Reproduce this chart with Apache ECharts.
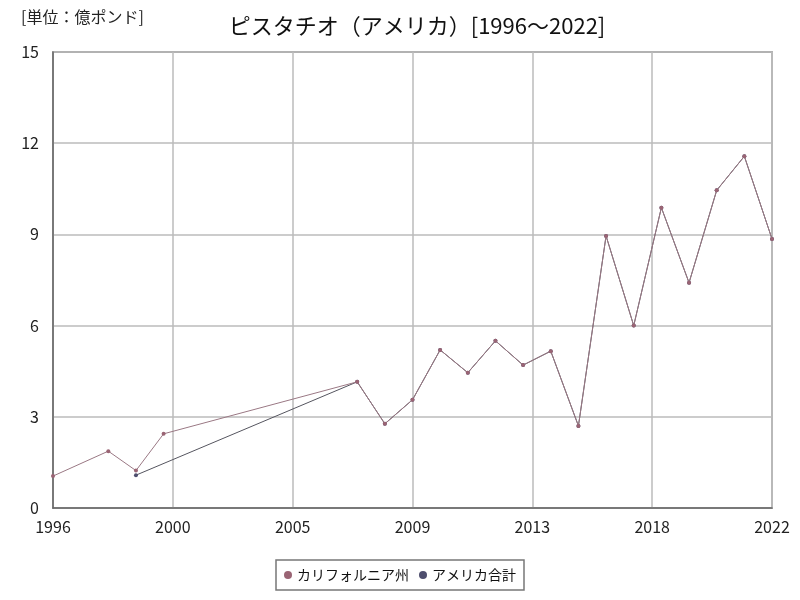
<!DOCTYPE html>
<html><head><meta charset="utf-8">
<script src="https://cdn.jsdelivr.net/npm/echarts@6/dist/echarts.min.js"></script>
<style>html,body{margin:0;padding:0;background:#fff}#c{width:800px;height:600px}</style>
</head><body><div id="c"></div>
<script>
const calYears = [1996,1998,1999,2000,2007,2008,2009,2010,2011,2012,2013,2014,2015,2016,2017,2018,2019,2020,2021,2022];
const calValues = [1.05,1.87,1.23,2.44,4.15,2.77,3.56,5.2,4.45,5.5,4.7,5.16,2.7,8.95,6.0,9.88,7.41,10.45,11.57,8.85];
const usYears = [1999,2007,2008,2009,2010,2011,2012,2013,2014,2015,2016,2017,2018,2019,2020,2021,2022];
const usValues = [1.08,4.15,2.77,3.56,5.2,4.45,5.5,4.7,5.16,2.7,8.95,6.0,9.88,7.41,10.45,11.57,8.85];
const seriesNames = ['カリフォルニア州','アメリカ合計'];
const startYear = 1996, endYear = 2022;

const font = '"Noto Sans CJK JP", sans-serif';
const chart = echarts.init(document.getElementById('c'));
chart.setOption({
  animation:false,
  textStyle:{fontFamily:font},
  title:[
    {text:'ピスタチオ（アメリカ）[1996～2022]',left:412,top:10,textAlign:'center',
     textStyle:{fontSize:22,fontWeight:'normal',color:'#111',fontFamily:font}},
    {text:'[単位：億ポンド]',left:16,top:4,textStyle:{fontSize:16,fontWeight:'normal',color:'#222',fontFamily:font}}
  ],
  grid:{left:53,right:28,top:52,bottom:92,show:true,borderColor:'#777',borderWidth:1.5},
  xAxis:{type:'value',min:0,max:endYear-startYear,interval:(endYear-startYear)/6,
    axisLine:{show:true,lineStyle:{color:'#666',width:1.5}},axisTick:{show:false},
    splitLine:{show:true,lineStyle:{color:'#bbb',width:1.5}},
    axisLabel:{color:'#222',fontSize:16,margin:11,formatter:v=>String(Math.round(startYear+v)),fontFamily:font}},
  yAxis:{type:'value',min:0,max:15,interval:3,
    axisLine:{show:true,lineStyle:{color:'#666',width:1.5}},axisTick:{show:false},
    splitLine:{show:true,lineStyle:{color:'#bbb',width:1.5}},
    axisLabel:{color:'#222',fontSize:16,margin:14,fontFamily:font}},
  legend:{bottom:10,left:'center',itemWidth:8,itemHeight:8,itemGap:10,
    borderColor:'#777',borderWidth:1.5,padding:[8,8],
    textStyle:{fontSize:14,color:'#111',fontFamily:font},
    data:[{name:seriesNames[0],icon:'circle'},{name:seriesNames[1],icon:'circle'}]},
  series:[
    {name:seriesNames[0],type:'line',data:calYears.map((y,i)=>[y-startYear,calValues[i]]),
     symbol:'circle',symbolSize:4,itemStyle:{color:'#9a6474'},lineStyle:{color:'#9a7884',width:1},z:2},
    {name:seriesNames[1],type:'line',data:usYears.map((y,i)=>[y-startYear,usValues[i]]),
     symbol:'circle',symbolSize:4,itemStyle:{color:'#4e4e6e'},lineStyle:{color:'#55555f',width:1},z:1}
  ]
});
</script></body></html>
